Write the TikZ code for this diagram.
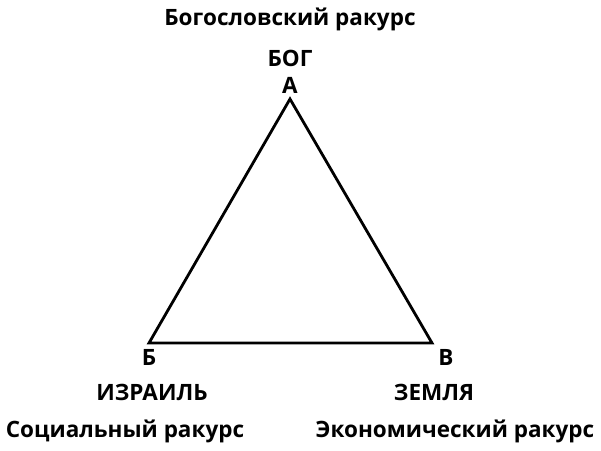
\documentclass[tikz,border=0pt]{standalone}
\usepackage{fontspec}
\setmainfont{Open Sans}
\usetikzlibrary{positioning}
\tikzset{lbl/.style={font=\fontsize{22.5}{26}\selectfont\bfseries, inner sep=0pt, anchor=base},
	side/.style={line width=2.8pt, line join=miter}}

\begin{document}
\begin{tikzpicture}[x=1pt,y=-1pt]
		\useasboundingbox (0,0) rectangle (601,450);
		\coordinate (A) at (290,99);
		\coordinate (B) at (149,343);
		\coordinate (V) at (432,343);
		\draw[side] (A) -- (B) -- (V) -- cycle;
		\node[lbl] (title) at (290,25) {Богословский ракурс};
		\node[lbl] (bog) at (290,66) {БОГ};
		\node[lbl] (vA) at (290,93) {А};
		\node[lbl] (vB) at (149,365) {Б};
		\node[lbl] (vV) at (446,365) {В};
		\node[lbl] (israel) at (152,400) {ИЗРАИЛЬ};
		\node[lbl] (zemlya) at (434,400) {ЗЕМЛЯ};
		\node[lbl] (soc) at (125,437) {Социальный ракурс};
		\node[lbl] (econ) at (455,437) {Экономический ракурс};
\end{tikzpicture}
\end{document}
